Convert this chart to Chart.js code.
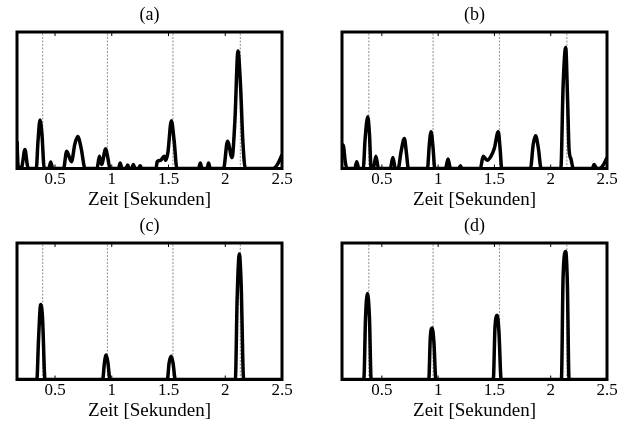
<!DOCTYPE html>
<html>
<head>
<meta charset="utf-8">
<script src="https://cdn.jsdelivr.net/npm/chart.js@4/dist/chart.umd.min.js"></script>
<style>
  body { margin: 0; background: #fff; }
  .panel { position: absolute; width: 310px; height: 211px; }
</style>
</head>
<body>
<div class="panel" style="left:0;top:0"><canvas id="chartA"></canvas></div>
<div class="panel" style="left:325px;top:0"><canvas id="chartB"></canvas></div>
<div class="panel" style="left:0;top:211px"><canvas id="chartC"></canvas></div>
<div class="panel" style="left:325px;top:211px"><canvas id="chartD"></canvas></div>
<script>
// tick labels of the time axis (seconds)
const xTicks = [0.5, 1, 1.5, 2, 2.5];

// reference beat positions (grey dotted lines)
const beatsAC = [0.391, 0.962, 1.539, 2.133];
const beatsBD = [0.384, 0.955, 1.545, 2.143];

// curves as [time, value] pairs
const seriesA = [
  [0.165, 0.2], [0.175, 0.02], [0.2, 0], [0.21, 0.02], [0.235, 0.14], [0.255, 0.03], [0.265, 0],
  [0.335, 0], [0.35, 0.2], [0.368, 0.355], [0.385, 0.25], [0.405, 0],
  [0.445, 0], [0.462, 0.048], [0.48, 0],
  [0.575, 0], [0.603, 0.127], [0.645, 0.05], [0.675, 0.18], [0.70, 0.235], [0.73, 0.15], [0.765, 0],
  [0.87, 0], [0.891, 0.09], [0.91, 0.03], [0.947, 0.144], [0.965, 0.08], [0.985, 0],
  [1.06, 0], [1.074, 0.04], [1.09, 0], [1.125, 0], [1.14, 0.025], [1.155, 0], [1.175, 0], [1.19, 0.03], [1.205, 0],
  [1.235, 0], [1.25, 0.02], [1.265, 0],
  [1.39, 0], [1.40, 0.05], [1.43, 0.06], [1.462, 0.09], [1.475, 0.06], [1.495, 0.12], [1.525, 0.35], [1.55, 0.2], [1.574, 0],
  [1.765, 0], [1.78, 0.04], [1.795, 0], [1.84, 0], [1.853, 0.04], [1.868, 0],
  [1.985, 0], [2.02, 0.2], [2.06, 0.08], [2.085, 0.35], [2.112, 0.86], [2.135, 0.6], [2.155, 0.2], [2.177, 0],
  [2.42, 0], [2.46, 0.03], [2.5, 0.1]
];
const seriesB = [
  [0.146, 0.18], [0.16, 0.16], [0.175, 0.05], [0.19, 0],
  [0.26, 0], [0.277, 0.05], [0.295, 0],
  [0.335, 0], [0.35, 0.2], [0.365, 0.34], [0.375, 0.38], [0.39, 0.25], [0.405, 0],
  [0.425, 0], [0.447, 0.09], [0.47, 0],
  [0.575, 0], [0.598, 0.08], [0.62, 0],
  [0.645, 0], [0.67, 0.12], [0.70, 0.22], [0.72, 0.1], [0.735, 0],
  [0.905, 0], [0.922, 0.18], [0.937, 0.27], [0.955, 0.15], [0.97, 0],
  [1.065, 0], [1.088, 0.07], [1.11, 0],
  [1.185, 0], [1.198, 0.02], [1.21, 0],
  [1.375, 0], [1.40, 0.09], [1.435, 0.06], [1.47, 0.09], [1.50, 0.15], [1.534, 0.27], [1.55, 0.15], [1.565, 0],
  [1.82, 0], [1.845, 0.18], [1.866, 0.24], [1.89, 0.15], [1.915, 0],
  [2.09, 0], [2.11, 0.6], [2.133, 0.887], [2.15, 0.5], [2.163, 0.14], [2.18, 0.07], [2.2, 0],
  [2.37, 0], [2.385, 0.03], [2.40, 0.01], [2.43, 0], [2.47, 0.03], [2.5, 0.08]
];
const seriesC = [
  [0.165, 0], [0.34, 0], [0.355, 0.3], [0.374, 0.55], [0.39, 0.45], [0.412, 0],
  [0.92, 0], [0.935, 0.12], [0.95, 0.18], [0.965, 0.13], [0.985, 0],
  [1.49, 0], [1.505, 0.12], [1.524, 0.17], [1.54, 0.12], [1.56, 0],
  [2.089, 0], [2.105, 0.6], [2.124, 0.92], [2.14, 0.7], [2.162, 0], [2.5, 0]
];
const seriesD = [
  [0.146, 0], [0.34, 0], [0.355, 0.45], [0.372, 0.63], [0.39, 0.45], [0.405, 0],
  [0.917, 0], [0.93, 0.3], [0.946, 0.377], [0.962, 0.28], [0.98, 0],
  [1.49, 0], [1.505, 0.38], [1.525, 0.47], [1.54, 0.35], [1.56, 0],
  [2.095, 0], [2.11, 0.75], [2.133, 0.937], [2.148, 0.7], [2.163, 0], [2.5, 0]
];

const serif = "'Liberation Serif', 'Times New Roman', serif";

// frame round the plot area plus small inward ticks top and bottom
const framePlugin = {
  id: "frame",
  afterDraw(chart) {
    const ctx = chart.ctx;
    const a = chart.chartArea;
    ctx.save();
    ctx.strokeStyle = "#000";
    ctx.lineWidth = 1;
    chart.scales.x.ticks.forEach(t => {
      const px = chart.scales.x.getPixelForValue(t.value);
      ctx.beginPath();
      ctx.moveTo(px, a.top); ctx.lineTo(px, a.top + 4);
      ctx.moveTo(px, a.bottom); ctx.lineTo(px, a.bottom - 4);
      ctx.stroke();
    });
    ctx.lineWidth = 3;
    ctx.strokeRect(a.left, a.top, a.right - a.left, a.bottom - a.top);
    ctx.restore();
  }
};

function makeChart(id, title, series, beats, xMin) {
  let datasets = [{
    data: series.map(p => ({ x: p[0], y: p[1] })),
    borderColor: "#000",
    borderWidth: 3.5,
    pointRadius: 0,
    cubicInterpolationMode: "monotone",
    fill: false
  }];
  beats.forEach(b => {
    datasets.push({
      data: [{ x: b, y: 0 }, { x: b, y: 1 }],
      borderColor: "#a0a0a0",
      borderWidth: 1.2,
      borderDash: [2, 1.5],
      pointRadius: 0,
      fill: false
    });
  });

  new Chart(document.getElementById(id), {
    type: "line",
    data: { datasets: datasets },
    plugins: [framePlugin],
    options: {
      responsive: true,
      maintainAspectRatio: false,
      animation: false,
      layout: { padding: { left: 17, right: 28, top: 0, bottom: 1.5 } },
      plugins: {
        legend: { display: false },
        tooltip: { enabled: false },
        title: {
          display: true,
          text: title,
          color: "#000",
          font: { family: serif, size: 18, weight: "normal", lineHeight: 1 },
          padding: { top: 6, bottom: 8 }
        }
      },
      scales: {
        x: {
          type: "linear",
          min: xMin,
          max: 2.5,
          afterBuildTicks: scale => { scale.ticks = xTicks.map(v => ({ value: v })); },
          grid: { display: false, drawTicks: false },
          border: { display: false },
          ticks: {
            color: "#000",
            padding: 2.5,
            maxRotation: 0,
            font: { family: serif, size: 17, lineHeight: 1 },
            callback: v => String(v)
          },
          title: {
            display: true,
            text: "Zeit [Sekunden]",
            color: "#000",
            padding: 0,
            font: { family: serif, size: 19, lineHeight: 1 }
          }
        },
        y: {
          display: false,
          min: 0,
          max: 1
        }
      }
    }
  });
}

makeChart("chartA", "(a)", seriesA, beatsAC, 0.165);
makeChart("chartB", "(b)", seriesB, beatsBD, 0.146);
makeChart("chartC", "(c)", seriesC, beatsAC, 0.165);
makeChart("chartD", "(d)", seriesD, beatsBD, 0.146);
</script>
</body>
</html>
